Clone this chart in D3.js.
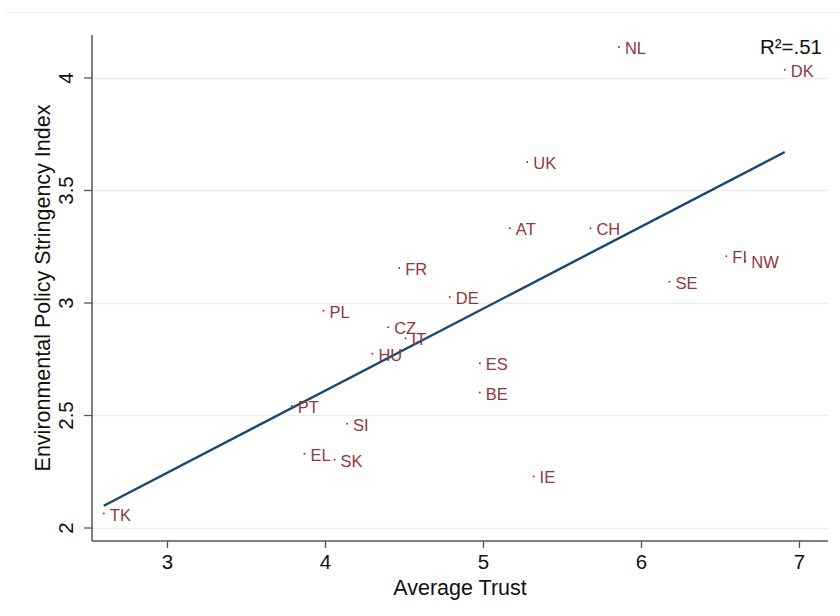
<!DOCTYPE html>
<html>
<head>
<meta charset="utf-8">
<script src="https://cdn.jsdelivr.net/npm/d3@7/dist/d3.min.js"></script>
<style>
  html, body { margin: 0; padding: 0; background: #fff; }
  svg { display: block; font-family: "Liberation Sans", Arial, sans-serif; }
</style>
</head>
<body>
<svg id="chart" width="840" height="616"></svg>
<script>
// Country codes, average trust (x) and environmental policy stringency (y)
const countries = ["NL", "DK", "UK", "AT", "CH", "FR", "DE", "SE", "FI", "NW", "PL",
                   "CZ", "IT", "HU", "ES", "BE", "PT", "SI", "EL", "SK", "IE", "TK"];
const trust = [5.86, 6.91, 5.28, 5.17, 5.68, 4.47, 4.79, 6.18, 6.54, 6.66, 3.99,
               4.40, 4.51, 4.30, 4.98, 4.98, 3.79, 4.14, 3.87, 4.06, 5.32, 2.60];
const stringency = [4.136, 4.034, 3.625, 3.33, 3.33, 3.153, 3.025, 3.092, 3.206, 3.185, 2.963,
                    2.890, 2.841, 2.772, 2.730, 2.600, 2.541, 2.461, 2.328, 2.301, 2.227, 2.062];
const xTicks = [3, 4, 5, 6, 7];
const yTicks = [2, 2.5, 3, 3.5, 4];
const xTitle = "Average Trust";
const yTitle = "Environmental Policy Stringency Index";
const r2Label = "R²=.51";

const svg = d3.select("#chart");

// plot frame
const frame = { left: 92, right: 828, top: 35, bottom: 541 };

const x = d3.scaleLinear().domain([3, 7]).range([167, 799]);
const y = d3.scaleLinear().domain([2, 4]).range([527.5, 77.5]);

const maroon = "#93363f";
const navy = "#1a476f";
const axisColor = "#555";
const gridColor = "#e7eef1";

// thin rule across the top of the graph region
svg.append("line")
  .attr("x1", 6).attr("x2", 840).attr("y1", 12.5).attr("y2", 12.5)
  .attr("stroke", "#e8eef0").attr("stroke-width", 1);

// horizontal gridlines
svg.append("g").selectAll("line").data(yTicks).join("line")
  .attr("x1", frame.left).attr("x2", frame.right)
  .attr("y1", d => Math.round(y(d)) + 0.5).attr("y2", d => Math.round(y(d)) + 0.5)
  .attr("stroke", gridColor).attr("stroke-width", 1.5);

// x axis
const xAxis = d3.axisBottom(x).tickValues(xTicks).tickSize(7).tickPadding(6)
  .tickFormat(d3.format("d"));
const gx = svg.append("g").attr("transform", `translate(0,${frame.bottom})`).call(xAxis);
gx.select(".domain").remove();
gx.selectAll(".tick line").attr("stroke", axisColor).attr("stroke-width", 1.3);
gx.selectAll(".tick text").attr("fill", "#111").attr("font-size", 20.5)
  .attr("font-family", "Liberation Sans, Arial, sans-serif");
svg.append("line").attr("x1", frame.left).attr("x2", frame.right)
  .attr("y1", frame.bottom).attr("y2", frame.bottom)
  .attr("stroke", axisColor).attr("stroke-width", 1.5);

// y axis with rotated labels
const yAxis = d3.axisLeft(y).tickValues(yTicks).tickSize(8).tickFormat(d => d3.format("")(d));
const gy = svg.append("g").attr("transform", `translate(${frame.left},0)`).call(yAxis);
gy.select(".domain").remove();
gy.selectAll(".tick line").attr("stroke", axisColor).attr("stroke-width", 1.3);
gy.selectAll(".tick text")
  .attr("x", null).attr("dy", null)
  .attr("transform", "translate(-19,0) rotate(-90)")
  .attr("text-anchor", "middle")
  .attr("fill", "#111").attr("font-size", 20.5)
  .attr("font-family", "Liberation Sans, Arial, sans-serif");
svg.append("line").attr("x1", frame.left).attr("x2", frame.left)
  .attr("y1", frame.top).attr("y2", frame.bottom)
  .attr("stroke", axisColor).attr("stroke-width", 1.5);

// axis titles
svg.append("text")
  .attr("x", 460).attr("y", 595)
  .attr("text-anchor", "middle").attr("font-size", 21.5).attr("fill", "#111")
  .text(xTitle);
svg.append("text")
  .attr("transform", `translate(50,288) rotate(-90)`)
  .attr("text-anchor", "middle").attr("font-size", 21.5).attr("fill", "#111")
  .text(yTitle);

// OLS fit across the observed trust range
const n = trust.length;
const mx = d3.mean(trust), my = d3.mean(stringency);
let sxy = 0, sxx = 0;
for (let i = 0; i < n; i++) {
  sxy += (trust[i] - mx) * (stringency[i] - my);
  sxx += (trust[i] - mx) ** 2;
}
const slope = sxy / sxx, intercept = my - slope * mx;
const [xmin, xmax] = d3.extent(trust);
svg.append("line")
  .attr("x1", x(xmin)).attr("y1", y(intercept + slope * xmin))
  .attr("x2", x(xmax)).attr("y2", y(intercept + slope * xmax))
  .attr("stroke", navy).attr("stroke-width", 2.4);

// points with country labels
const pts = countries.map((c, i) => ({ c, tx: trust[i], sy: stringency[i] }));
const gp = svg.append("g");
gp.selectAll("circle").data(pts).join("circle")
  .attr("cx", d => x(d.tx)).attr("cy", d => y(d.sy)).attr("r", 1)
  .attr("fill", maroon);
gp.selectAll("text").data(pts).join("text")
  .attr("x", d => x(d.tx) + 6).attr("y", d => y(d.sy) + 7)
  .attr("font-size", 16.5).attr("fill", maroon)
  .text(d => d.c);

// goodness of fit
svg.append("text")
  .attr("x", 822).attr("y", 54).attr("text-anchor", "end")
  .attr("font-size", 20.5).attr("fill", "#111")
  .text(r2Label);
</script>
</body>
</html>
